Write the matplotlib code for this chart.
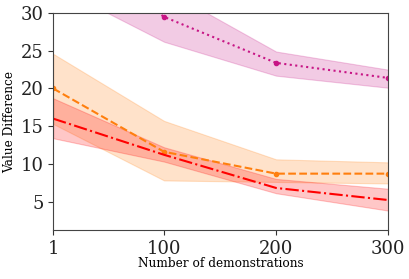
import numpy as np
import matplotlib
matplotlib.use('Agg')
import matplotlib.pyplot as plt

plt.rcParams['font.family'] = 'DejaVu Serif'

# Data
demos = [1, 100, 200, 300]

pink_mean = [40.0, 29.5, 23.4, 21.4]
pink_low = [33.7, 26.2, 21.7, 20.1]
pink_high = [47.0, 33.2, 24.9, 22.5]

orange_mean = [20.0, 11.6, 8.7, 8.7]
orange_low = [15.3, 7.8, 7.6, 7.4]
orange_high = [24.6, 15.7, 10.6, 10.2]

red_mean = [16.0, 11.2, 6.8, 5.2]
red_low = [13.4, 10.3, 6.1, 3.8]
red_high = [18.7, 12.2, 8.0, 6.7]

fig, ax = plt.subplots(figsize=(4.09, 2.79), dpi=100)

# pink series
ax.fill_between(demos, pink_low, pink_high, color='#c71585', alpha=0.22, linewidth=0.8)
ax.plot(demos, pink_mean, color='#c71585', linestyle=':', marker='o', markersize=3)

# orange series
ax.fill_between(demos, orange_low, orange_high, color='#ff7f0e', alpha=0.22, linewidth=0.8)
ax.plot(demos, orange_mean, color='#ff7f0e', linestyle='--', marker='o', markersize=3)

# red series
ax.fill_between(demos, red_low, red_high, color='red', alpha=0.22, linewidth=0.8)
ax.plot(demos, red_mean, color='red', linestyle='-.')

ax.set_xlim(1, 300)
ax.set_ylim(1.2, 30)
ax.set_xticks(demos)
ax.set_yticks([5, 10, 15, 20, 25, 30])
ax.tick_params(labelsize=13, colors='#333333', labelcolor='#222222')
for s in ax.spines.values():
    s.set_color('#444444')

ax.set_xlabel('Number of demonstrations', fontsize=8.7)
ax.set_ylabel('Value Difference', fontsize=8.7)
ax.yaxis.set_label_coords(-0.11, 0.5)
ax.xaxis.set_label_coords(0.5, -0.125)

fig.subplots_adjust(left=0.13, right=0.949, top=0.953, bottom=0.175)
fig.savefig('out.png', dpi=100)
